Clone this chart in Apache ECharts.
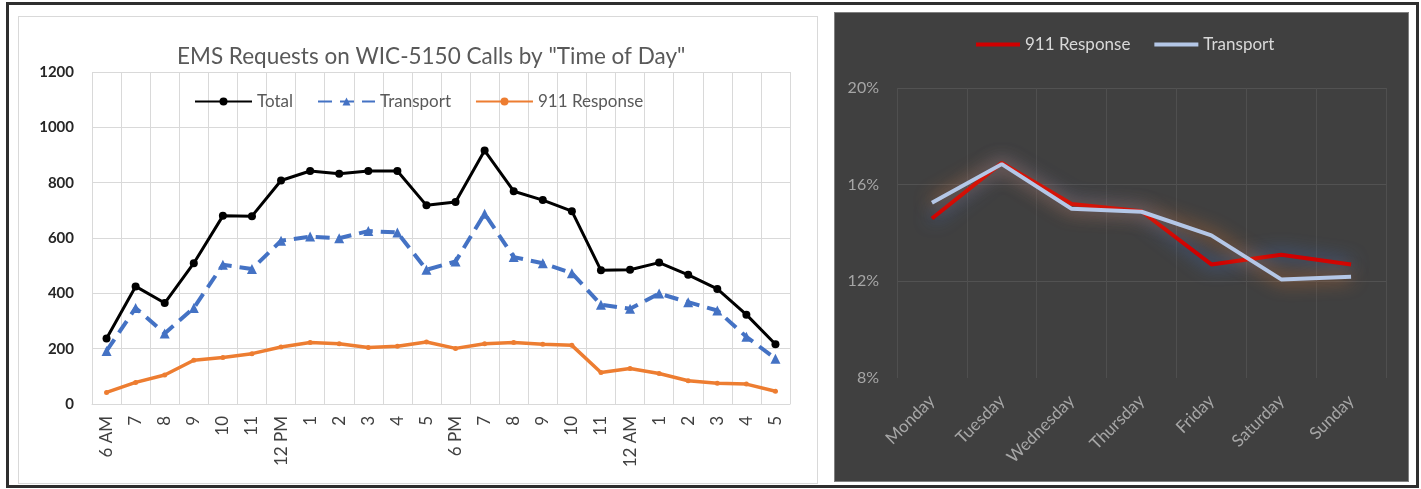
<!DOCTYPE html>
<html>
<head>
<meta charset="utf-8">
<script src="https://cdn.jsdelivr.net/npm/echarts@6/dist/echarts.min.js"></script>
<style>
  html, body { margin: 0; padding: 0; background: #fff; }
  #frame { position: absolute; left: 6px; top: 2px; width: 1407px; height: 480px; border: 3px solid #2e2e2e; }
  #left { position: absolute; left: 18px; top: 16px; width: 800px; height: 468px; box-sizing: border-box; border: 1px solid #d9d9d9; }
  #right { position: absolute; left: 834px; top: 12px; width: 575px; height: 470px; box-sizing: border-box; border: 1px solid #808080; }
</style>
</head>
<body>
<div id="frame"></div>
<div id="left"></div>
<div id="right"></div>
<script>
// hourly chart
const hours = ['6 AM', '7', '8', '9', '10', '11', '12 PM', '1', '2', '3', '4', '5',
  '6 PM', '7', '8', '9', '10', '11', '12 AM', '1', '2', '3', '4', '5'];
const totalCalls = [237, 425, 365, 509, 680, 679, 808, 842, 832, 842, 842, 718,
  730, 916, 769, 737, 697, 483, 485, 511, 467, 416, 323, 216];
const transportCalls = [192, 347, 255, 347, 503, 488, 590, 605, 599, 625, 620, 485,
  515, 688, 531, 509, 473, 359, 344, 399, 368, 338, 243, 164];
const responseCalls = [42, 78, 105, 158, 168, 182, 206, 222, 218, 204, 209, 224,
  201, 218, 222, 216, 212, 114, 128, 110, 84, 75, 72, 46];
const countTicks = { min: 0, max: 1200, interval: 200 };

// weekday chart (percent)
const days = ['Monday', 'Tuesday', 'Wednesday', 'Thursday', 'Friday', 'Saturday', 'Sunday'];
const responsePct = [14.6, 16.9, 15.2, 14.9, 12.7, 13.1, 12.7];
const transportPct = [15.25, 16.85, 15.0, 14.88, 13.9, 12.08, 12.19];
const pctTicks = { min: 8, max: 20, interval: 4 };

const FONT = 'Lato, "Open Sans", sans-serif';

const leftChart = echarts.init(document.getElementById('left'));
leftChart.setOption({
  backgroundColor: '#fff',
  textStyle: { fontFamily: FONT },
  title: {
    text: 'EMS Requests on WIC-5150 Calls by "Time of Day"',
    left: 153,
    top: 23,
    textStyle: { color: '#595959', fontSize: 22.5, fontWeight: 'normal', fontFamily: FONT }
  },
  legend: {
    left: 170,
    top: 71,
    itemWidth: 57,
    itemHeight: 10,
    itemGap: 24,
    textStyle: { color: '#595959', fontSize: 17, fontFamily: FONT },
    data: ['Total', 'Transport', '911 Response']
  },
  grid: { left: 73, right: 27, top: 55, bottom: 79 },
  xAxis: {
    type: 'category',
    data: hours,
    boundaryGap: true,
    axisLine: { lineStyle: { color: '#d9d9d9' } },
    axisTick: { show: false },
    splitLine: { show: true, interval: 0, lineStyle: { color: '#d9d9d9' } },
    axisLabel: { interval: 0, rotate: 90, margin: 12, color: '#404040', fontSize: 17, fontFamily: FONT }
  },
  yAxis: {
    type: 'value',
    min: countTicks.min,
    max: countTicks.max,
    interval: countTicks.interval,
    axisLine: { show: false },
    axisTick: { show: false },
    splitLine: { lineStyle: { color: '#d9d9d9' } },
    axisLabel: {
      margin: 18, color: '#262626', fontSize: 15, fontWeight: 'bold', fontFamily: FONT,
      formatter: (v) => String(v)
    }
  },
  series: [
    {
      name: 'Total', type: 'line', data: totalCalls,
      symbol: 'circle', symbolSize: 8,
      itemStyle: { color: '#000' },
      lineStyle: { color: '#000', width: 3 }
    },
    {
      name: 'Transport', type: 'line', data: transportCalls,
      symbol: 'triangle', symbolSize: 10,
      itemStyle: { color: '#4472c4' },
      lineStyle: { color: '#4472c4', width: 4, type: [14, 8] }
    },
    {
      name: '911 Response', type: 'line', data: responseCalls,
      symbol: 'circle', symbolSize: 5,
      itemStyle: { color: '#ed7d31' },
      lineStyle: { color: '#ed7d31', width: 3.5 }
    }
  ]
});

const rightChart = echarts.init(document.getElementById('right'));
rightChart.setOption({
  backgroundColor: '#404040',
  textStyle: { fontFamily: FONT },
  legend: {
    left: 136,
    top: 18,
    icon: 'rect',
    itemWidth: 44,
    itemHeight: 4,
    itemGap: 24,
    textStyle: { color: '#d9d9d9', fontSize: 17, fontFamily: FONT },
    data: ['911 Response', 'Transport']
  },
  grid: { left: 62, right: 22, top: 75, bottom: 103 },
  xAxis: {
    type: 'category',
    data: days,
    boundaryGap: true,
    axisLine: { show: false },
    axisTick: { show: false },
    splitLine: { show: true, interval: 0, lineStyle: { color: '#4f4f4f' } },
    axisLabel: { interval: 0, rotate: 45, margin: 20, color: '#a6a6a6', fontSize: 17, fontFamily: FONT }
  },
  yAxis: {
    type: 'value',
    min: pctTicks.min,
    max: pctTicks.max,
    interval: pctTicks.interval,
    axisLine: { show: false },
    axisTick: { show: false },
    splitLine: { showMinLine: false, lineStyle: { color: '#525252' } },
    axisLabel: { margin: 18, color: '#a6a6a6', fontSize: 16, formatter: '{value}%', fontFamily: FONT }
  },
  series: [
    {
      name: '911 Response', type: 'line', data: responsePct,
      symbol: 'none',
      itemStyle: { color: '#d00000' },
      lineStyle: { color: '#d00000', width: 4, shadowBlur: 18, shadowColor: 'rgba(68,114,196,1)' }
    },
    {
      name: 'Transport', type: 'line', data: transportPct,
      symbol: 'none',
      itemStyle: { color: '#b4c7e7' },
      lineStyle: { color: '#b4c7e7', width: 4, shadowBlur: 18, shadowColor: 'rgba(237,125,49,0.95)' }
    }
  ]
});
</script>
</body>
</html>
